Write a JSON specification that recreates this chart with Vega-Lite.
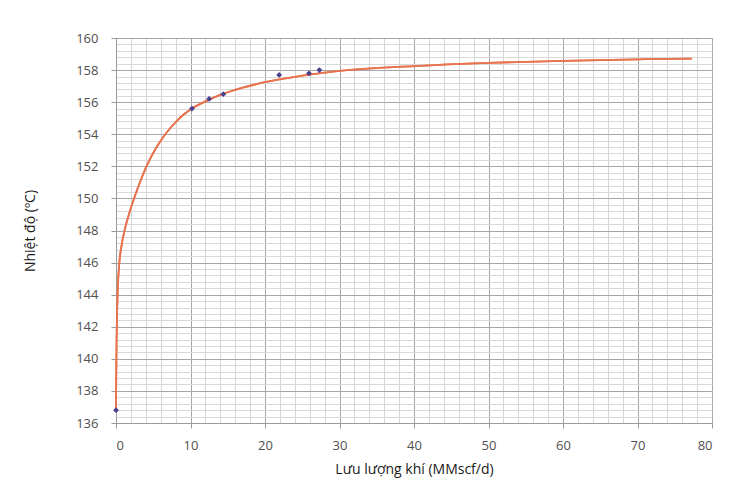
{
  "$schema": "https://vega.github.io/schema/vega-lite/v6.json",
  "width": 596,
  "height": 385,
  "autosize": {"type": "none"},
  "padding": {"left": 116, "top": 38, "right": 30, "bottom": 63},
  "background": "white",
  "config": {
    "view": {"stroke": "#9a9a9a", "strokeWidth": 1},
    "font": "Open Sans"
  },
  "datasets": {
    "points": [
      {"flow": 0, "temp": 136.8},
      {"flow": 10.2, "temp": 155.6},
      {"flow": 12.5, "temp": 156.2},
      {"flow": 14.4, "temp": 156.5},
      {"flow": 21.9, "temp": 157.7},
      {"flow": 25.9, "temp": 157.8},
      {"flow": 27.3, "temp": 158.0}
    ],
    "curve": [
      {"flow": 0, "temp": 136.8},
      {"flow": 0.03, "temp": 139.0},
      {"flow": 0.08, "temp": 141.2},
      {"flow": 0.15, "temp": 143.0},
      {"flow": 0.25, "temp": 144.5},
      {"flow": 0.45, "temp": 146.0},
      {"flow": 0.76, "temp": 147.1},
      {"flow": 1.2, "temp": 148.1},
      {"flow": 1.8, "temp": 149.1},
      {"flow": 2.5, "temp": 150.1},
      {"flow": 3.3, "temp": 151.1},
      {"flow": 4.2, "temp": 152.1},
      {"flow": 5.2, "temp": 153.0},
      {"flow": 6.3, "temp": 153.8},
      {"flow": 7.5, "temp": 154.5},
      {"flow": 9.0, "temp": 155.2},
      {"flow": 10, "temp": 155.55},
      {"flow": 12, "temp": 156.05},
      {"flow": 14, "temp": 156.45},
      {"flow": 17, "temp": 156.9},
      {"flow": 20, "temp": 157.25},
      {"flow": 25, "temp": 157.65},
      {"flow": 30, "temp": 157.95},
      {"flow": 40, "temp": 158.25},
      {"flow": 50, "temp": 158.45},
      {"flow": 60, "temp": 158.58},
      {"flow": 70, "temp": 158.67},
      {"flow": 77.3, "temp": 158.72}
    ]
  },
  "resolve": {"axis": {"x": "independent", "y": "independent"}},
  "layer": [
    {
      "data": {"name": "curve"},
      "mark": {"type": "line", "color": "#e8734f", "strokeWidth": 1.8, "interpolate": "monotone"},
      "encoding": {
        "x": {
          "field": "flow", "type": "quantitative",
          "scale": {"domain": [0, 80], "nice": false, "zero": false},
          "axis": {
            "orient": "bottom",
            "values": [0,2,4,6,8,10,12,14,16,18,20,22,24,26,28,30,32,34,36,38,40,42,44,46,48,50,52,54,56,58,60,62,64,66,68,70,72,74,76,78,80],
            "grid": true, "gridColor": "#d6d6d6", "gridWidth": 1,
            "labels": false, "ticks": false, "domain": false, "title": null
          }
        },
        "y": {
          "field": "temp", "type": "quantitative",
          "scale": {"domain": [136, 160], "nice": false, "zero": false},
          "axis": {
            "orient": "left",
            "values": [136,136.4,136.8,137.2,137.6,138,138.4,138.8,139.2,139.6,140,140.4,140.8,141.2,141.6,142,142.4,142.8,143.2,143.6,144,144.4,144.8,145.2,145.6,146,146.4,146.8,147.2,147.6,148,148.4,148.8,149.2,149.6,150,150.4,150.8,151.2,151.6,152,152.4,152.8,153.2,153.6,154,154.4,154.8,155.2,155.6,156,156.4,156.8,157.2,157.6,158,158.4,158.8,159.2,159.6,160],
            "grid": true, "gridColor": "#d9d9d9", "gridWidth": 1,
            "labels": false, "ticks": false, "domain": false, "title": null
          }
        }
      }
    },
    {
      "data": {"name": "curve"},
      "mark": {"type": "line", "color": "#e8734f", "strokeWidth": 1.8, "interpolate": "monotone"},
      "encoding": {
        "x": {
          "field": "flow", "type": "quantitative",
          "scale": {"domain": [0, 80], "nice": false, "zero": false},
          "axis": {
            "orient": "bottom",
            "values": [0,10,20,30,40,50,60,70,80],
            "grid": true, "gridColor": "#a6a6a6", "gridWidth": 1,
            "domain": true, "domainColor": "#9a9a9a",
            "ticks": true, "tickColor": "#9a9a9a", "tickSize": 5,
            "labelFont": "Open Sans", "labelFontSize": 13, "labelColor": "#505050", "labelPadding": 11,
            "title": "Lưu lượng khí (MMscf/d)",
            "titleFont": "Open Sans", "titleFontSize": 14, "titleFontWeight": "normal", "titleColor": "#1a1a1a", "titlePadding": 10
          }
        },
        "y": {
          "field": "temp", "type": "quantitative",
          "scale": {"domain": [136, 160], "nice": false, "zero": false},
          "axis": {
            "orient": "left",
            "values": [136,138,140,142,144,146,148,150,152,154,156,158,160],
            "grid": true, "gridColor": "#a6a6a6", "gridWidth": 1,
            "domain": true, "domainColor": "#9a9a9a",
            "ticks": true, "tickColor": "#9a9a9a", "tickSize": 5,
            "labelFont": "Open Sans", "labelFontSize": 13, "labelColor": "#505050", "labelPadding": 13,
            "title": "Nhiệt độ (ºC)",
            "titleFont": "Open Sans", "titleFontSize": 14, "titleFontWeight": "normal", "titleColor": "#1a1a1a", "titlePadding": 38
          }
        }
      }
    },
    {
      "data": {"name": "points"},
      "mark": {"type": "point", "filled": true, "shape": "diamond", "color": "#4a3f8f", "size": 34, "opacity": 1},
      "encoding": {
        "x": {"field": "flow", "type": "quantitative", "axis": null},
        "y": {"field": "temp", "type": "quantitative", "axis": null}
      }
    }
  ]
}
